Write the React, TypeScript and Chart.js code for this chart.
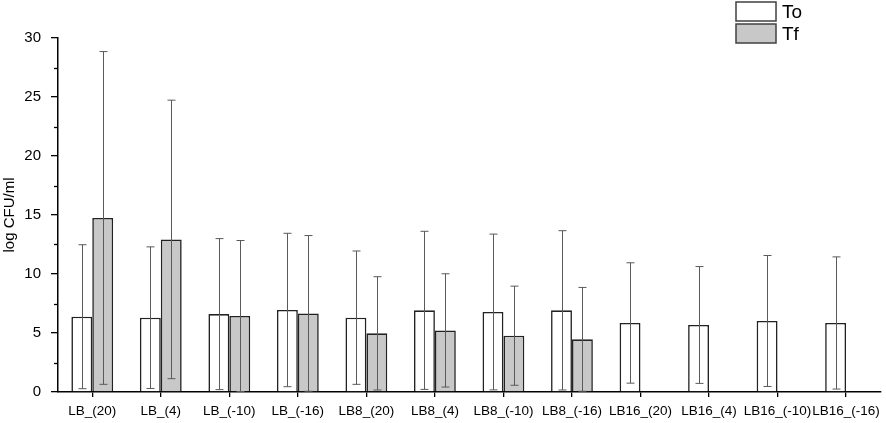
import React, { useEffect, useRef } from "react";
import { Chart, registerables } from "chart.js";

Chart.register(...registerables);

const categories = [
  "LB_(20)", "LB_(4)", "LB_(-10)", "LB_(-16)",
  "LB8_(20)", "LB8_(4)", "LB8_(-10)", "LB8_(-16)",
  "LB16_(20)", "LB16_(4)", "LB16_(-10)", "LB16_(-16)",
];
const toValues = [6.38, 6.3, 6.6, 6.95, 6.3, 6.92, 6.78, 6.92, 5.85, 5.68, 6.02, 5.85];
const toErrors = [6.1, 6.0, 6.4, 6.5, 5.65, 6.7, 6.6, 6.75, 5.1, 4.95, 5.55, 5.6];
const tfValues: (number | null)[] = [14.75, 12.93, 6.44, 6.66, 4.97, 5.22, 4.77, 4.46, null, null, null, null];
const tfErrors: (number | null)[] = [14.1, 11.8, 6.4, 6.6, 4.8, 4.8, 4.2, 4.4, null, null, null, null];
const yTicks = [0, 5, 10, 15, 20, 25, 30];
const yMinorTicks = [2.5, 7.5, 12.5, 17.5, 22.5, 27.5];
const legendLabels = ["To", "Tf"];

const FONT = "'Liberation Sans', Arial, sans-serif";
const fills = ["#ffffff", "#c8c8c8"];
const errorsBySeries = [toErrors, tfErrors];

const errorBarPlugin = {
  id: "errorBars",
  afterDatasetsDraw(chart: any) {
    const { ctx } = chart;
    const y = chart.scales.y;
    ctx.save();
    ctx.strokeStyle = "#5a5a5a";
    ctx.lineWidth = 1;
    chart.data.datasets.forEach((ds: any, di: number) => {
      const meta = chart.getDatasetMeta(di);
      meta.data.forEach((el: any, i: number) => {
        const v = ds.data[i];
        const e = errorsBySeries[di][i];
        if (v == null || e == null) return;
        const x = Math.round(el.x) + 0.5;
        const top = y.getPixelForValue(v + e);
        const bot = y.getPixelForValue(Math.max(0, v - e));
        ctx.beginPath();
        ctx.moveTo(x, top);
        ctx.lineTo(x, bot);
        ctx.moveTo(x - 4, top);
        ctx.lineTo(x + 4, top);
        ctx.moveTo(x - 4, bot);
        ctx.lineTo(x + 4, bot);
        ctx.stroke();
      });
    });
    ctx.restore();
  },
};

const extrasPlugin = {
  id: "extras",
  afterDraw(chart: any) {
    const { ctx } = chart;
    const y = chart.scales.y;
    const left = chart.chartArea.left;
    ctx.save();
    ctx.strokeStyle = "#000";
    ctx.lineWidth = 1.3;
    yMinorTicks.forEach((t) => {
      const py = Math.round(y.getPixelForValue(t)) + 0.5;
      ctx.beginPath();
      ctx.moveTo(left - 4, py);
      ctx.lineTo(left, py);
      ctx.stroke();
    });
    // legend
    const bx = 736;
    const bw = 40;
    const bh = 19;
    const tops = [2, 24];
    ctx.font = `19px ${FONT}`;
    ctx.textBaseline = "middle";
    ctx.textAlign = "left";
    legendLabels.forEach((lab, i) => {
      ctx.fillStyle = fills[i];
      ctx.fillRect(bx, tops[i], bw, bh);
      ctx.strokeStyle = "#404040";
      ctx.lineWidth = 1.5;
      ctx.strokeRect(bx, tops[i], bw, bh);
      ctx.fillStyle = "#000";
      ctx.fillText(lab, bx + 46, tops[i] + bh / 2 + 1);
    });
    ctx.restore();
  },
};

export default function App() {
  const ref = useRef<HTMLCanvasElement | null>(null);
  useEffect(() => {
    document.body.style.margin = "0";
    if (!ref.current) return;
    const chart = new Chart(ref.current, {
      type: "bar",
      data: {
        labels: categories,
        datasets: [
          {
            label: legendLabels[0],
            data: toValues,
            backgroundColor: fills[0],
            borderColor: "#222222",
            borderWidth: 1.6,
            categoryPercentage: 0.61,
            barPercentage: 1,
          },
          {
            label: legendLabels[1],
            data: tfValues,
            backgroundColor: fills[1],
            borderColor: "#222222",
            borderWidth: 1.6,
            categoryPercentage: 0.61,
            barPercentage: 1,
          },
        ],
      },
      options: {
        animation: false,
        responsive: false,
        devicePixelRatio: 1,
        layout: { padding: { top: 38, right: 4, left: 0, bottom: 0 } },
        plugins: {
          legend: { display: false },
          tooltip: { enabled: false },
        },
        scales: {
          x: {
            grid: {
              display: true,
              drawOnChartArea: false,
              offset: false,
              tickLength: 5,
              color: "#000",
              lineWidth: 1.3,
            },
            border: { display: true, color: "#000", width: 1.5 },
            ticks: {
              color: "#000",
              font: { family: FONT, size: 13.5 },
              maxRotation: 0,
              autoSkip: false,
              padding: 6,
            },
            afterFit(scale: any) {
              scale.height = 31;
            },
          },
          y: {
            min: 0,
            max: 30,
            afterBuildTicks(scale: any) {
              scale.ticks = yTicks.map((v) => ({ value: v }));
            },
            grid: {
              display: true,
              drawOnChartArea: false,
              tickLength: 7,
              color: "#000",
              lineWidth: 1.3,
            },
            border: { display: true, color: "#000", width: 1.5 },
            ticks: {
              color: "#000",
              font: { family: FONT, size: 15 },
              padding: 10,
            },
            title: {
              display: true,
              text: "log CFU/ml",
              color: "#000",
              font: { family: FONT, size: 15 },
              padding: { top: 1, bottom: 0 },
            },
            afterFit(scale: any) {
              scale.width = 58;
            },
          },
        },
      },
      plugins: [errorBarPlugin, extrasPlugin],
    });
    return () => chart.destroy();
  }, []);
  return <canvas ref={ref} width={886} height={423} style={{ display: "block" }} />;
}
